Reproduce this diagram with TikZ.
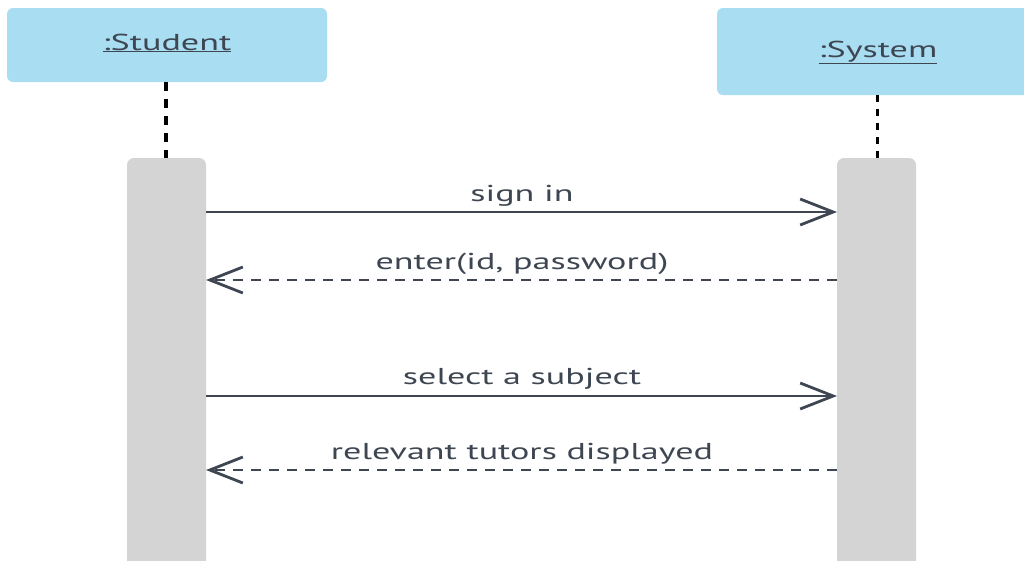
\documentclass[tikz,border=0pt]{standalone}
\usepackage{fontspec}
\setmainfont{PT Sans}[FakeStretch=1.57]
\usetikzlibrary{arrows.meta}
\definecolor{headfill}{HTML}{A9DDF2}
\definecolor{barfill}{HTML}{D4D4D4}
\definecolor{ink}{HTML}{3E4652}
\tikzset{
  head/.style={fill=headfill, rounded corners=6pt},
  bar/.style={fill=barfill, rounded corners=7pt},
  lifeline/.style={line width=3.5pt, black, dash pattern=on 9pt off 8pt},
  call/.style={line width=2.8pt, ink, -{Straight Barb[length=33pt,width=26pt,line width=2.8pt]}},
  reply/.style={call, dash pattern=on 10pt off 8pt},
  msg/.style={text=ink, font=\fontsize{23}{26}\selectfont, anchor=base, inner sep=0pt},
  title/.style={text=ink, font=\fontsize{23}{26}\selectfont, anchor=base, inner sep=0pt}
}
\begin{document}
\begin{tikzpicture}[x=1pt, y=-1pt]
\useasboundingbox (0,0) rectangle (1024,560);
\begin{scope}
\clip (0,0) rectangle (1024,560);
% participant heads
\fill[head] (7,8) rectangle (327,82);
\fill[head] (717,8) rectangle (1040,95);
\node[title] (student) at (167,50) {\underline{:Student}};
\node[title] (system) at (878,57) {\underline{:System}};
% lifelines
\coordinate (sTop) at (166,82);
\coordinate (sBot) at (166,158);
\coordinate (yTop) at (877,95);
\coordinate (yBot) at (877,158);
\draw[lifeline] (sTop) -- (sBot);
\draw[lifeline, dash pattern=on 7pt off 7pt, line width=3pt] (yTop) -- (yBot);
% activation bars
\fill[bar] (127,158) rectangle (206,575);
\fill[bar] (837,158) rectangle (916,575);
% message anchors on the bar edges
\coordinate (a1) at (206,212); \coordinate (b1) at (837,212);
\coordinate (a2) at (206,280); \coordinate (b2) at (837,280);
\coordinate (a3) at (206,396); \coordinate (b3) at (837,396);
\coordinate (a4) at (206,470); \coordinate (b4) at (837,470);
% messages
\draw[call] (a1) -- (b1);
\node[msg] (m1) at (522,201) {sign in};
\draw[reply] (b2) -- (a2);
\node[msg] (m2) at (522,269) {enter(id, password)};
\draw[call] (a3) -- (b3);
\node[msg] (m3) at (522,384) {select a subject};
\draw[reply] (b4) -- (a4);
\node[msg] (m4) at (522,459) {relevant tutors displayed};
\end{scope}
\end{tikzpicture}
\end{document}
